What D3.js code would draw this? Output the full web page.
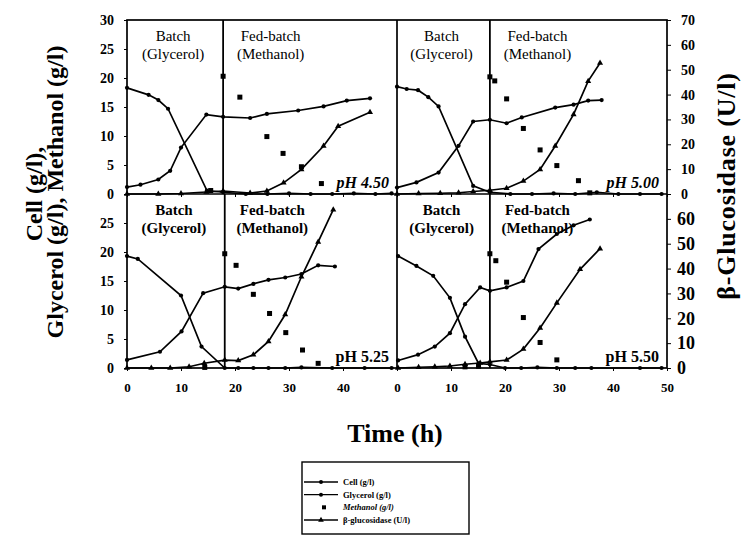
<!DOCTYPE html>
<html><head><meta charset="utf-8">
<script src="https://cdn.jsdelivr.net/npm/d3@7"></script>
<style>body{margin:0;background:#fff} svg{display:block} svg text{font-family:"Liberation Serif","Times New Roman",serif}</style>
</head><body><svg id="c" width="747" height="559"></svg>
<script>
// ---------- data (time h, value) ----------
const phLabels = ["pH 4.50", "pH 5.00", "pH 5.25", "pH 5.50"];
const dividerTimes = [17.8, 17.2, 18.1, 17.2];
const leftTicksTop = [0, 5, 10, 15, 20, 25, 30];
const leftTicksBottom = [0, 5, 10, 15, 20, 25];
const rightTicksTop = [0, 10, 20, 30, 40, 50, 60, 70];
const rightTicksBottom = [0, 10, 20, 30, 40, 50, 60];
const timeTicksLeft = [0, 10, 20, 30, 40];
const timeTicksRight = [0, 10, 20, 30, 40, 50];
const legendLabels = ["Cell (g/l)", "Glycerol (g/l)", "Methanol (g/l)", "β-glucosidase (U/l)"];

// pH 4.50
const cell450 = [[0,1.2],[2.5,1.6],[5.8,2.5],[8,4.0],[10,8.0],[14.7,13.7],[17.8,13.3],[22.8,13.1],[25.9,13.8],[31.7,14.4],[36.4,15.1],[40.7,16.1],[45,16.5]];
const gly450 = [[0,18.3],[4,17.1],[5.8,16.2],[7.6,14.7],[14.8,0.6],[17.8,0.3],[22,0],[26,0],[30,0.1],[34,0],[38,0],[42,0.1],[46,0],[49,0.1]];
const meth450 = [[15.5,0.6],[17.8,20.3],[20.9,16.7],[25.9,9.9],[28.9,7.0],[32.3,4.7],[36,1.8]];
const glu450 = [[0,0],[5.8,0],[10,0.2],[14.7,0.8],[17.8,1.2],[22.8,0.4],[25.9,1.2],[29,4.5],[32.3,9.9],[36.4,19.3],[39.1,27.3],[45,32.9]];
// pH 5.00
const cell500 = [[0,1.1],[3.6,2.0],[7.7,3.7],[11.4,8.3],[14.1,12.5],[17.2,12.8],[20.3,12.2],[23.1,13.2],[29.3,14.9],[32.7,15.4],[35.4,16.1],[37.9,16.2]];
const gly500 = [[0,18.5],[1.8,18.1],[3.9,17.9],[5.8,16.7],[7.7,15.1],[14.1,1.4],[17.2,0.3],[21,0],[25,0],[29,0.1],[33,0],[37,0.3],[41,0],[45,0],[49,0]];
const meth500 = [[17.2,20.2],[18.1,19.5],[20.3,16.4],[23.4,11.3],[26.5,7.6],[29.6,4.9],[33.6,2.3],[35.7,0.2]];
const glu500 = [[0,0],[4,0.2],[8,0.3],[11.4,0.5],[14.1,1.0],[17.2,1.5],[20.3,2.3],[23.4,5.2],[26.5,9.9],[29.3,19.3],[32.7,32],[35.4,45.4],[37.6,52.7]];
// pH 5.25
const cell525 = [[0,1.4],[6.1,2.8],[10.1,6.3],[14.1,12.9],[18.1,14.0],[20.6,13.7],[23.4,14.5],[26.2,15.2],[29.3,15.6],[32.3,16.2],[35.4,17.7],[38.5,17.5]];
const gly525 = [[0,19.3],[2,18.8],[10,12.5],[13.8,3.7],[18.1,0],[20.6,0],[23.4,0],[26.2,0],[29.3,0],[32.3,0.1],[38,0],[44,0],[49,0]];
const meth525 = [[14.4,0.1],[18.1,19.7],[20.2,17.7],[23.4,12.7],[26.4,9.4],[29.4,6.1],[32.5,3.1],[35.4,0.8]];
const glu525 = [[0,0],[4.5,0],[8,0],[11.5,0.5],[14.3,1.9],[18.1,3.2],[20.6,3.0],[23.4,5.3],[26.2,10.7],[29.3,21.5],[32.3,36.7],[35.4,50.7],[38.2,63.7]];
// pH 5.50
const cell550 = [[0.2,1.3],[3.9,2.3],[7,3.7],[9.8,6.0],[12.6,11.0],[15.4,13.9],[17.2,13.3],[20.3,13.9],[23.4,15.0],[26.2,20.5],[29.6,23.1],[32.7,24.6],[35.7,25.6]];
const gly550 = [[0.2,19.3],[3.6,17.6],[6.7,15.9],[9.8,12.1],[12.6,5.4],[15.1,0.8],[17.2,0.6],[20,0],[23,0],[26,0.1],[29.6,0],[33,0],[36,0],[45,0],[49,0]];
const meth550 = [[12.6,0.2],[15.1,0.3],[17.2,19.7],[18.3,18.5],[20.3,14.8],[23.4,8.7],[26.5,4.4],[29.6,1.4]];
const glu550 = [[0.2,0],[4,0.3],[7,0.5],[9.8,0.8],[12.6,1.5],[15.4,2.0],[17.2,2.5],[20.3,3.2],[23.4,7.6],[26.5,16.1],[29.6,26.2],[33.9,39.7],[37.6,48]];

const panelData = [
  {cell: cell450, gly: gly450, meth: meth450, glu: glu450},
  {cell: cell500, gly: gly500, meth: meth500, glu: glu500},
  {cell: cell525, gly: gly525, meth: meth525, glu: glu525},
  {cell: cell550, gly: gly550, meth: meth550, glu: glu550}
];

// ---------- layout ----------
const FONT = '"Liberation Serif","Times New Roman",serif';
const cols = [[127, 397], [397, 667]];
const rows = [[194, 20], [368, 194]];
const svg = d3.select("#c");
svg.append("rect").attr("width", 747).attr("height", 559).attr("fill", "#fff");

const g = svg.append("g");

function txt(sel) { return sel.style("font-family", FONT); }

panelData.forEach((pd, i) => {
  const col = i % 2, row = Math.floor(i / 2);
  const x = d3.scaleLinear().domain([0, 50]).range(cols[col]);
  const yL = d3.scaleLinear().domain([0, 30]).range(rows[row]);
  const yR = d3.scaleLinear().domain([0, 70]).range(rows[row]);
  const p = g.append("g");

  const dx = x(dividerTimes[i]);
  p.append("line").attr("x1", dx).attr("x2", dx).attr("y1", rows[row][1]).attr("y2", rows[row][0])
    .attr("stroke", "#000").attr("stroke-width", 1.8);

  const lineL = d3.line().x(d => x(d[0])).y(d => yL(d[1]));
  const lineR = d3.line().x(d => x(d[0])).y(d => yR(d[1]));

  [pd.cell, pd.gly].forEach(s => {
    p.append("path").attr("d", lineL(s)).attr("fill", "none").attr("stroke", "#000").attr("stroke-width", 1.7);
    p.selectAll(null).data(s).enter().append("circle")
      .attr("cx", d => x(d[0])).attr("cy", d => yL(d[1])).attr("r", 2.1).attr("fill", "#000");
  });
  p.append("path").attr("d", lineR(pd.glu)).attr("fill", "none").attr("stroke", "#000").attr("stroke-width", 1.7);
  p.selectAll(null).data(pd.glu).enter().append("path")
    .attr("d", d3.symbol(d3.symbolTriangle, 16)())
    .attr("transform", d => `translate(${x(d[0])},${yR(d[1])})`).attr("fill", "#000");
  p.selectAll(null).data(pd.meth).enter().append("rect")
    .attr("x", d => x(d[0]) - 2.5).attr("y", d => yL(d[1]) - 2.5).attr("width", 5).attr("height", 5).attr("fill", "#000");

  const top = rows[row][1];
  const bw = row === 0 ? "normal" : "bold";
  const bx = x(dividerTimes[i] * 0.48), fx = x(dividerTimes[i] + 8.8);
  [["Batch", bx, 21], ["(Glycerol)", bx, 39], ["Fed-batch", fx, 21], ["(Methanol)", fx, 39]].forEach(t => {
    txt(p.append("text")).attr("x", t[1]).attr("y", top + t[2]).attr("text-anchor", "middle")
      .attr("font-size", 15).attr("font-weight", bw).text(t[0]);
  });
  txt(p.append("text")).attr("x", x(48.5)).attr("y", rows[row][0] - 6).attr("text-anchor", "end")
    .attr("font-size", 16).attr("font-weight", "bold")
    .attr("font-style", row === 0 ? "italic" : "normal").text(phLabels[i]);

  if (col === 0) {
    const ax = p.append("g").attr("transform", `translate(${cols[0][0]},0)`)
      .call(d3.axisLeft(yL).tickValues(row === 0 ? leftTicksTop : leftTicksBottom).tickSize(3).tickPadding(10));
    ax.select(".domain").remove();
    txt(ax.selectAll("text")).attr("font-size", 14).attr("font-weight", "bold");
  } else {
    const ax = p.append("g").attr("transform", `translate(${cols[1][1]},0)`)
      .call(d3.axisRight(yR).tickValues(row === 0 ? rightTicksTop : rightTicksBottom).tickSize(4).tickPadding(row === 0 ? 10 : 6));
    ax.select(".domain").remove();
    txt(ax.selectAll("text")).attr("font-size", row === 0 ? 14 : 18).attr("font-weight", "bold");
  }
  const xa = p.append("g").attr("transform", `translate(0,${rows[row][0]})`)
    .call(d3.axisBottom(x).tickValues(col === 0 ? timeTicksLeft : timeTicksRight).tickSize(3).tickPadding(12));
  xa.select(".domain").remove();
  txt(xa.selectAll("text")).attr("font-size", 13).attr("font-weight", "bold");
  if (row === 0) xa.selectAll("text").remove();
});

g.append("rect").attr("x", 127).attr("y", 20).attr("width", 540).attr("height", 348)
  .attr("fill", "none").attr("stroke", "#000").attr("stroke-width", 1.7);
g.append("line").attr("x1", 127).attr("x2", 667).attr("y1", 194).attr("y2", 194).attr("stroke", "#000").attr("stroke-width", 1.7);
g.append("line").attr("x1", 397).attr("x2", 397).attr("y1", 20).attr("y2", 368).attr("stroke", "#000").attr("stroke-width", 1.7);

txt(svg.append("text")).attr("transform", "translate(42,194) rotate(-90)").attr("text-anchor", "middle")
  .attr("font-size", 24).attr("font-weight", "bold").text("Cell (g/l),");
txt(svg.append("text")).attr("transform", "translate(63,192) rotate(-90)").attr("text-anchor", "middle")
  .attr("font-size", 24).attr("font-weight", "bold").text("Glycerol (g/l), Methanol (g/l)");
txt(svg.append("text")).attr("transform", "translate(735,186) rotate(-90)").attr("text-anchor", "middle")
  .attr("font-size", 26).attr("font-weight", "bold").attr("letter-spacing", 0.8).text("β-Glucosidase (U/l)");
txt(svg.append("text")).attr("x", 395).attr("y", 442).attr("text-anchor", "middle")
  .attr("font-size", 26).attr("font-weight", "bold").text("Time (h)");

const lg = svg.append("g");
lg.append("rect").attr("x", 302).attr("y", 462).attr("width", 167).attr("height", 72)
  .attr("fill", "none").attr("stroke", "#000").attr("stroke-width", 1.4);
const ly = d3.scalePoint().domain(legendLabels).range([482, 520]);
legendLabels.forEach((lab, k) => {
  const yy = ly(lab);
  if (k !== 2) lg.append("line").attr("x1", 304).attr("x2", 338).attr("y1", yy).attr("y2", yy).attr("stroke", "#000").attr("stroke-width", 1.4);
  if (k < 2) lg.append("circle").attr("cx", 321).attr("cy", yy).attr("r", 2).attr("fill", "#000");
  if (k === 2) lg.append("rect").attr("x", 322).attr("y", yy - 2).attr("width", 4).attr("height", 4).attr("fill", "#000");
  if (k === 3) lg.append("path").attr("d", d3.symbol(d3.symbolTriangle, 14)()).attr("transform", `translate(321,${yy})`).attr("fill", "#000");
  txt(lg.append("text")).attr("x", 343).attr("y", yy + 3).attr("font-size", 8.5)
    .attr("font-weight", "bold").attr("font-style", k === 2 ? "italic" : "normal").text(lab);
});
</script></body></html>
